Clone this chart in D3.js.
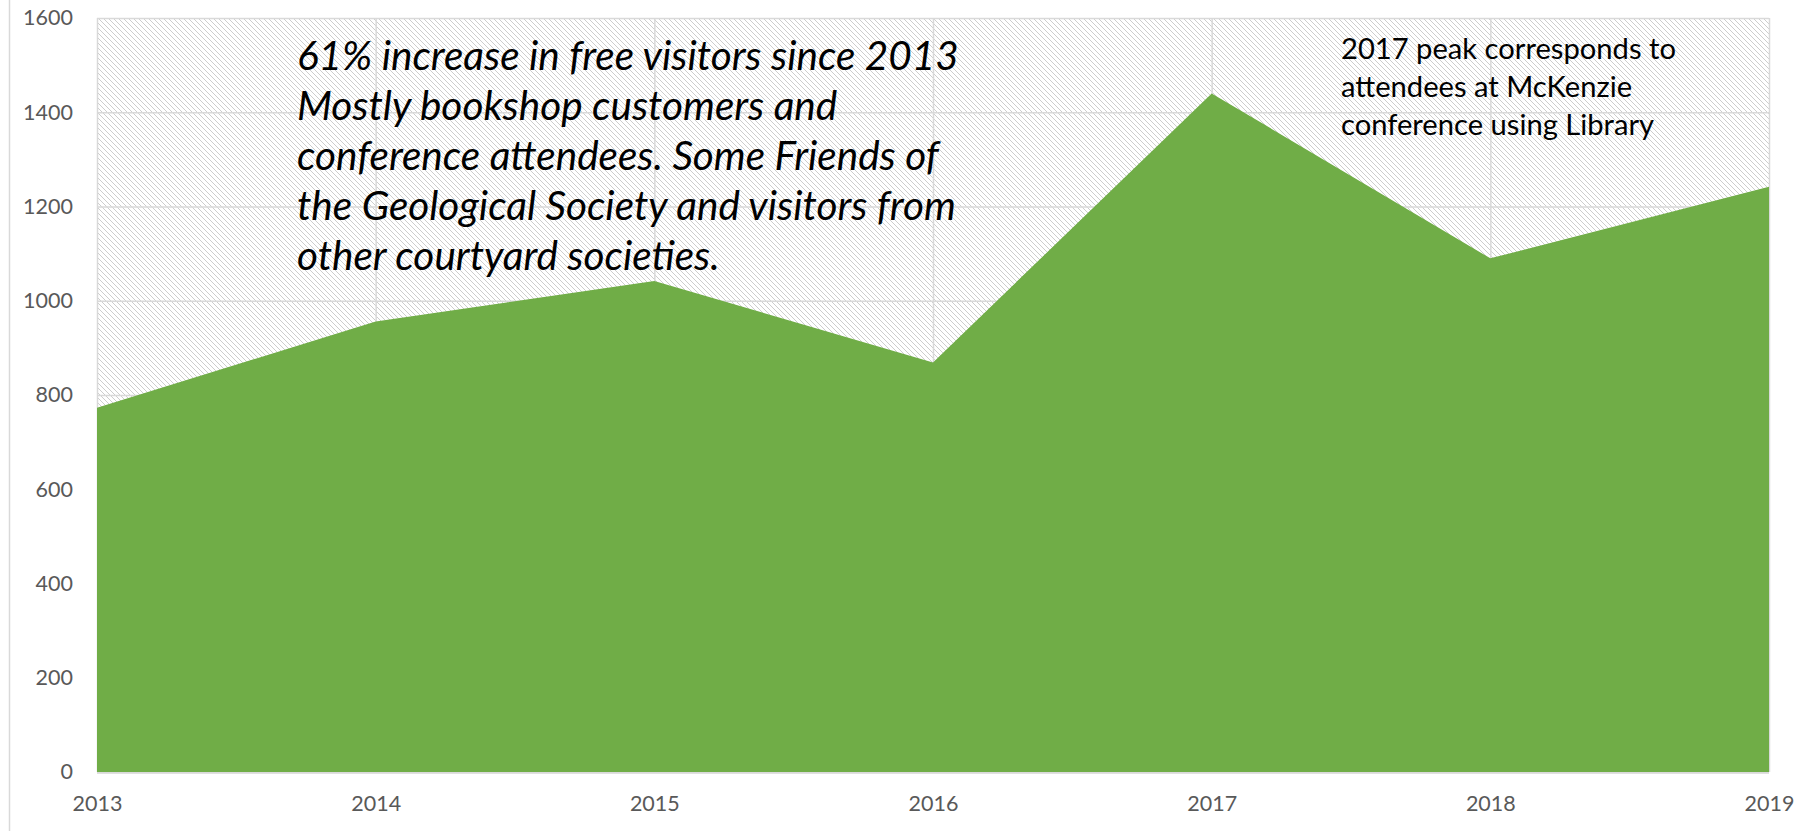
<!DOCTYPE html>
<html>
<head>
<meta charset="utf-8">
<script src="https://cdn.jsdelivr.net/npm/d3@7"></script>
<style>
  html, body { margin: 0; padding: 0; background: #fff; }
  svg { display: block; }
  text { font-family: Lato, "Open Sans", "Noto Sans", sans-serif; }
</style>
</head>
<body>
<svg id="chart" width="1807" height="831"></svg>
<script>
// Free visitors per year
const years = ["2013", "2014", "2015", "2016", "2017", "2018", "2019"];
const freeVisitors = [773, 956, 1042, 869, 1440, 1090, 1242];
const yTicks = [0, 200, 400, 600, 800, 1000, 1200, 1400, 1600];

const noteLeft = [
  "61% increase in free visitors since 2013",
  "Mostly bookshop customers and",
  "conference attendees. Some Friends of",
  "the Geological Society and visitors from",
  "other courtyard societies."
];
const noteRight = [
  "2017 peak corresponds to",
  "attendees at McKenzie",
  "conference using Library"
];

const W = 1807, H = 831;
const plot = { left: 97, right: 1769, top: 18, bottom: 772 };
const gridColor = "#d9d9d9";
const labelColor = "#595959";

const svg = d3.select("#chart");
const x = d3.scalePoint().domain(years).range([plot.left, plot.right]);
const y = d3.scaleLinear().domain([0, 1600]).range([plot.bottom, plot.top]);

// diagonal hatch used as the plot-area background
const hs = 5;
const pat = svg.append("defs").append("pattern")
  .attr("id", "hatch")
  .attr("patternUnits", "userSpaceOnUse")
  .attr("width", hs).attr("height", hs);
pat.append("rect").attr("width", hs).attr("height", hs).attr("fill", "#fff");
pat.selectAll("rect.px").data(d3.range(hs)).join("rect")
  .attr("class", "px")
  .attr("x", d => d).attr("y", d => d)
  .attr("width", 1).attr("height", 1)
  .attr("fill", "#cdcdcd");

// outer chart border (left edge)
svg.append("line")
  .attr("x1", 9.5).attr("x2", 9.5).attr("y1", 0).attr("y2", H)
  .attr("stroke", gridColor).attr("stroke-width", 1.5);

svg.append("rect")
  .attr("x", plot.left).attr("y", plot.top)
  .attr("width", plot.right - plot.left).attr("height", plot.bottom - plot.top)
  .attr("fill", "url(#hatch)")
  .attr("shape-rendering", "crispEdges");

// gridlines
const gridY = svg.append("g")
  .attr("transform", `translate(${plot.left},0)`)
  .call(d3.axisLeft(y).tickValues(yTicks).tickSize(-(plot.right - plot.left)).tickFormat(""));
const gridX = svg.append("g")
  .attr("transform", `translate(0,${plot.bottom})`)
  .call(d3.axisBottom(x).tickSize(-(plot.bottom - plot.top)).tickFormat(""));
[gridY, gridX].forEach(g => {
  g.select(".domain").remove();
  g.selectAll("line").attr("stroke", gridColor).attr("stroke-width", 1.5);
});

// area
const data = years.map((yr, i) => ({ year: yr, value: freeVisitors[i] }));
svg.append("path")
  .datum(data)
  .attr("fill", "#70ad47")
  .attr("d", d3.area()
    .x(d => x(d.year))
    .y0(y(0))
    .y1(d => y(d.value)));

// baseline
svg.append("line")
  .attr("x1", plot.left).attr("x2", plot.right)
  .attr("y1", y(0) + 1).attr("y2", y(0) + 1)
  .attr("stroke", gridColor).attr("stroke-width", 1.3);

// axis labels
const axY = svg.append("g")
  .attr("transform", `translate(${plot.left},0)`)
  .call(d3.axisLeft(y).tickValues(yTicks).tickFormat(d3.format("d")).tickSize(0).tickPadding(24));
const axX = svg.append("g")
  .attr("transform", `translate(0,${plot.bottom})`)
  .call(d3.axisBottom(x).tickSize(0).tickPadding(24));
[axY, axX].forEach(g => {
  g.select(".domain").remove();
  g.selectAll("text")
    .attr("fill", labelColor)
    .style("font-family", "Lato, 'Open Sans', sans-serif")
    .style("font-size", "21.5px");
});

// annotation blocks; font size chosen so the first line spans the given width
function note(lines, x0, baseline0, lineGap, firstWidth, italic) {
  const g = svg.append("g");
  const t = g.selectAll("text").data(lines).join("text")
    .attr("x", x0)
    .attr("y", (d, i) => baseline0 + i * lineGap)
    .attr("fill", "#000")
    .style("font-style", italic ? "italic" : "normal")
    .style("font-size", "30px")
    .text(d => d);
  const w = t.node().getComputedTextLength();
  t.style("font-size", (30 * firstWidth / w) + "px");
}
note(noteLeft, 297, 70, 50, 662, true);
note(noteRight, 1341, 59, 38, 335, false);
</script>
</body>
</html>
